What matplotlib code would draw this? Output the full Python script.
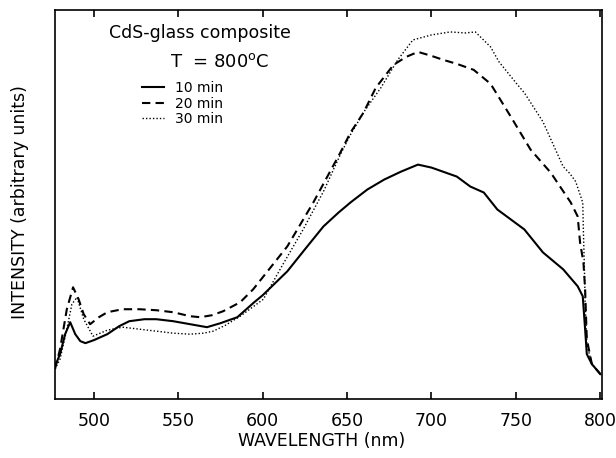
import matplotlib
matplotlib.use("Agg")
import matplotlib.pyplot as plt
from matplotlib.lines import Line2D

# ---- data (intensity in arbitrary units) ----
wl_10 = [477, 480, 483, 486, 489, 492, 495, 500, 508, 515, 521, 530, 537, 547, 557, 567,
         575, 585, 595, 600, 614.6, 625, 636, 645, 652, 662, 672, 682, 692, 700, 715, 723,
         731, 739, 755, 766, 778, 786.6, 789.6, 791, 792, 795, 800]
int_10 = [33, 45, 65, 77, 65, 58, 56, 59, 65, 73, 78, 80, 80, 78, 75, 72,
          76, 82, 97, 104, 128, 150, 173, 187, 197, 210, 220, 228, 235, 232, 223, 213,
          207, 190, 170, 147, 130, 113, 103, 70, 45, 35, 25]

wl_20 = [477, 480, 484, 487.7, 491, 494, 497.8, 503, 508, 517, 527, 537, 547, 557, 563, 570,
         576.6, 586.7, 594.4, 614.6, 630, 646, 652, 659.7, 667, 677.5, 685, 692, 700, 707,
         715, 725, 735, 747, 758.7, 770.6, 782.5, 786.6, 788, 790, 791, 792, 795, 800]
int_20 = [30, 50, 90, 112, 100, 85, 75, 82, 87, 90, 90, 89, 87, 83, 82, 84,
          88, 97, 110, 153, 197, 247, 267, 287, 312, 335, 343, 348, 344, 340,
          336, 330, 316, 283, 250, 227, 197, 183, 157, 137, 110, 60, 35, 25]

wl_30 = [477, 480, 484, 487, 490, 494, 499.5, 508, 517, 527, 537, 547, 557, 565, 570.7, 578,
         586.7, 600.4, 612, 624, 636, 646, 652, 660, 670, 680, 689, 700, 711, 720, 726, 735,
         740, 751, 755, 766, 778, 782, 785.4, 789.6, 790, 790.5, 791, 792, 795, 800]
int_30 = [30, 40, 70, 95, 102, 80, 63, 69, 72, 70, 68, 66, 65, 66, 68, 74,
          83, 100, 135, 170, 208, 245, 265, 288, 312, 340, 360, 365, 368, 367, 368, 353,
          338, 315, 307, 278, 233, 226, 218, 197, 167, 137, 97, 55, 35, 25]

series_labels = ["10 min", "20 min", "30 min"]
x_ticks = [500, 550, 600, 650, 700, 750, 800]

# ---- figure ----
plt.rcParams['font.family'] = ['DejaVu Sans']
fig = plt.figure(figsize=(6.16, 4.58), dpi=100)
ax = fig.add_axes([55/616, 1 - 399/458, (602-55)/616, (399-10)/458])

styles = [dict(lw=1.5, ls='-'), dict(lw=1.5, ls=(0, (4, 2.5))), dict(lw=1.0, ls=(0, (1, 1.5)))]
for (x, y), st in zip([(wl_10, int_10), (wl_20, int_20), (wl_30, int_30)], styles):
    ax.plot(x, y, color='black', **st)

ax.set_xlim(477, 801)
ax.set_ylim(0, 390)
ax.set_xticks(x_ticks)
ax.set_xticklabels([str(t) for t in x_ticks], fontsize=12.5)
ax.set_yticks([])
ax.tick_params(axis='x', direction='in', length=5, width=1.2, top=True, pad=9)
for s in ax.spines.values():
    s.set_linewidth(1.2)

fig.text(322/616, 1 - 441/458, "WAVELENGTH (nm)", fontsize=12.5, ha='center', va='center')
fig.text(20/616, 1 - 202/458, "INTENSITY (arbitrary units)", fontsize=12.5,
         ha='center', va='center', rotation=90)

# annotations
fig.text(200/616, 1 - 33/458, "CdS-glass composite", fontsize=12.5,
         ha='center', va='center')
fig.text(220/616, 1 - 62/458, r"T  = 800$^{\rm o}$C", fontsize=13,
         ha='center', va='center')

handles = [Line2D([], [], color='black', **st) for st in styles]
ax.legend(handles, series_labels, loc='upper left',
          bbox_to_anchor=((142-55)/547, 1 - (81-10)/389),
          frameon=False, fontsize=10, handlelength=1.6, handletextpad=0.8,
          labelspacing=0.12, borderpad=0, borderaxespad=0)

fig.savefig("out.png", dpi=100)
